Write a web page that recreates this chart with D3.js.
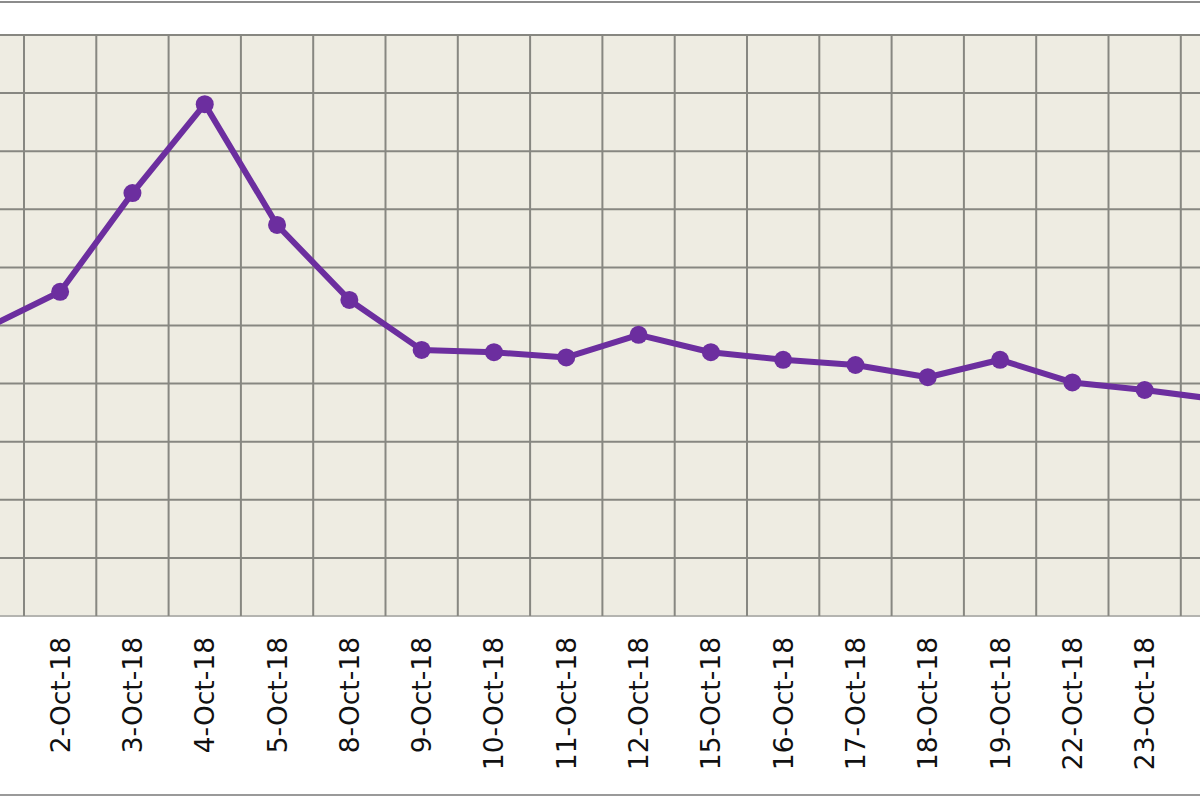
<!DOCTYPE html>
<html>
<head>
<meta charset="utf-8">
<script src="https://cdn.jsdelivr.net/npm/d3@7"></script>
<style>
  body { margin: 0; background: #fff; }
</style>
</head>
<body>
<script>
var width = 1200;
var height = 800;

// trading days shown (first and last are cut by the frame)
var days = ['1-Oct-18', '2-Oct-18', '3-Oct-18', '4-Oct-18', '5-Oct-18', '8-Oct-18',
    '9-Oct-18', '10-Oct-18', '11-Oct-18', '12-Oct-18', '15-Oct-18', '16-Oct-18',
    '17-Oct-18', '18-Oct-18', '19-Oct-18', '22-Oct-18', '23-Oct-18', '24-Oct-18'];
var values = [49.7, 55.8, 72.8, 88.1, 67.3, 54.4, 45.8, 45.4, 44.5, 48.4, 45.4, 44.1,
    43.2, 41.1, 44.1, 40.2, 38.9, 37.3];
var yTicks = [0, 10, 20, 30, 40, 50, 60, 70, 80, 90, 100];

var plotTop = 35;
var plotBottom = 616;
var band = 72.3;
var left = 24 - band;

var svg = d3.select('body')
    .append('svg')
    .attr('width', width)
    .attr('height', height);

var xScale = d3.scaleBand()
    .domain(days)
    .range([left, left + band * days.length])
    .paddingInner(0)
    .paddingOuter(0);

var yScale = d3.scaleLinear()
    .domain([0, 100])
    .range([plotBottom, plotTop]);

// outer frame lines
svg.append('line')
    .attr('x1', 0).attr('x2', width)
    .attr('y1', 2).attr('y2', 2)
    .attr('stroke', '#8c8c8c').attr('stroke-width', 2);
svg.append('line')
    .attr('x1', 0).attr('x2', width)
    .attr('y1', 795).attr('y2', 795)
    .attr('stroke', '#9a9a9a').attr('stroke-width', 2);

// plot background
svg.append('rect')
    .attr('x', 0)
    .attr('y', plotTop)
    .attr('width', width)
    .attr('height', plotBottom - plotTop)
    .attr('fill', '#eeece2');

// horizontal grid
svg.append('g')
    .selectAll('line')
    .data(yTicks)
    .enter()
    .append('line')
    .attr('x1', 0)
    .attr('x2', width)
    .attr('y1', function (d) { return yScale(d); })
    .attr('y2', function (d) { return yScale(d); })
    .attr('stroke', function (d) { return d === 0 ? '#b4b4b0' : '#878781'; })
    .attr('stroke-width', 2);

// vertical grid at band edges
svg.append('g')
    .selectAll('line')
    .data(days)
    .enter()
    .append('line')
    .attr('x1', function (d) { return xScale(d) + xScale.bandwidth(); })
    .attr('x2', function (d) { return xScale(d) + xScale.bandwidth(); })
    .attr('y1', plotTop)
    .attr('y2', plotBottom)
    .attr('stroke', '#878781')
    .attr('stroke-width', 2);

var cx = function (d, i) { return xScale(days[i]) + xScale.bandwidth() / 2; };

var line = d3.line()
    .x(function (d, i) { return cx(d, i); })
    .y(function (d) { return yScale(d); });

svg.append('path')
    .datum(values)
    .attr('d', line)
    .attr('fill', 'none')
    .attr('stroke', '#6c2e9f')
    .attr('stroke-width', 6)
    .attr('stroke-linejoin', 'round');

svg.append('g')
    .selectAll('circle')
    .data(values)
    .enter()
    .append('circle')
    .attr('cx', cx)
    .attr('cy', function (d) { return yScale(d); })
    .attr('r', 9)
    .attr('fill', '#6c2e9f');

// rotated date labels
svg.append('g')
    .selectAll('text')
    .data(days)
    .enter()
    .append('text')
    .attr('transform', function (d) {
        var x = xScale(d) + xScale.bandwidth() / 2;
        return 'translate(' + x + ',637) rotate(-90)';
    })
    .attr('dy', '0.36em')
    .attr('text-anchor', 'end')
    .style('font-family', '"DejaVu Sans", Verdana, sans-serif')
    .style('font-size', '26.5px')
    .attr('fill', '#111')
    .text(function (d) { return d; });
</script>
</body>
</html>
